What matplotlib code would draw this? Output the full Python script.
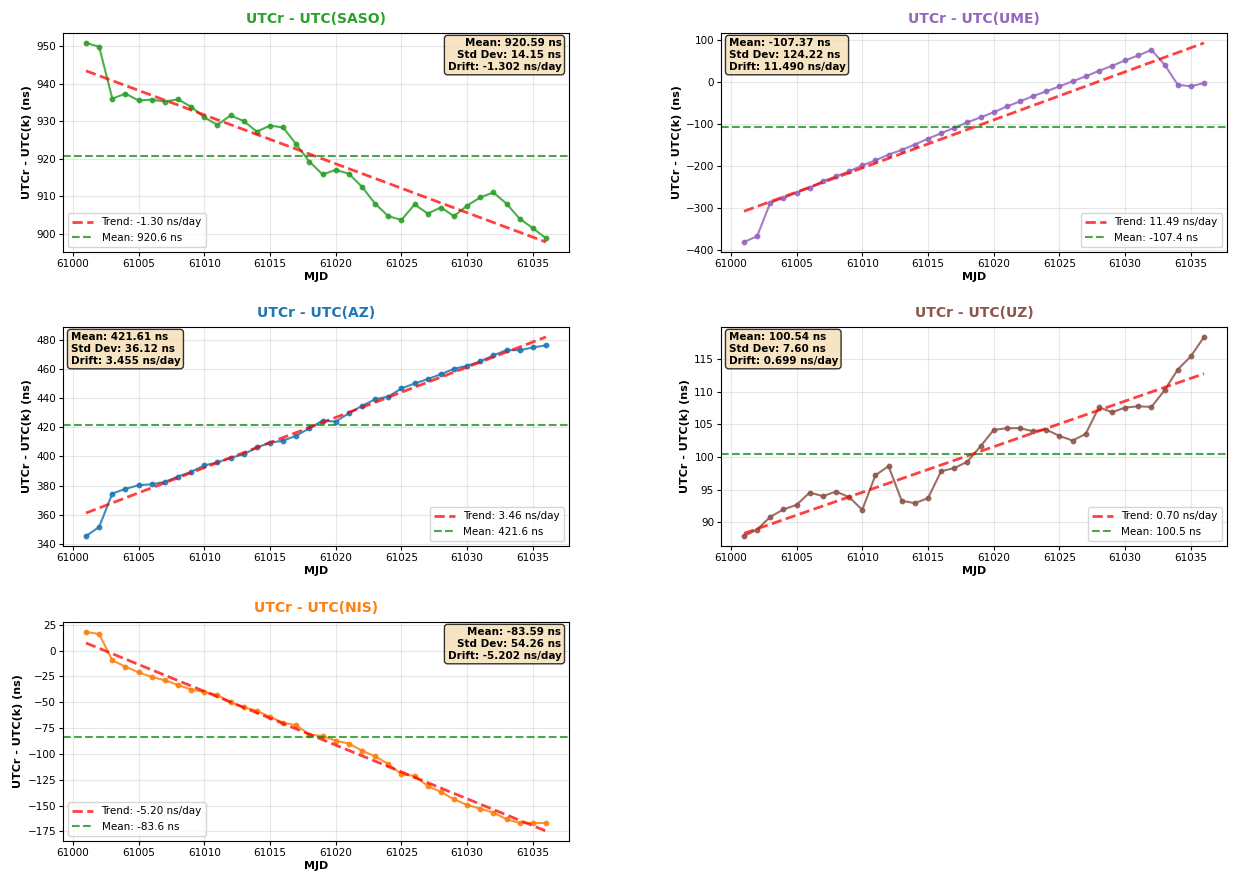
import numpy as np
import matplotlib
matplotlib.use("Agg")
import matplotlib.pyplot as plt

# Modified Julian Dates of the daily comparisons
mjd = list(range(61001, 61037))

# UTCr - UTC(k) offsets in ns for each laboratory
saso = [950.8, 949.8, 936.0, 937.3, 935.5, 935.7, 935.2, 935.8, 933.8, 931.0,
        929.0, 931.5, 930.0, 927.2, 928.8, 928.3, 923.8, 919.2, 915.8, 917.0,
        916.0, 912.5, 908.0, 904.7, 903.7, 907.8, 905.4, 907.0, 904.7, 907.5,
        909.7, 911.0, 908.0, 904.0, 901.5, 898.8]
ume = [-382, -368, -288, -277, -264, -252, -237, -225, -213, -199,
       -187, -173, -162, -149, -135, -122, -109, -96, -84, -72,
       -58, -46, -33, -22, -10, 2, 14, 27, 39, 52,
       64, 77, 42, -6, -10, -2]
az = [345.3, 351.5, 374.5, 377.7, 380.2, 380.9, 382.5, 386.2, 389.4, 393.8,
      395.9, 399.1, 401.4, 406.2, 409.4, 410.8, 414.3, 419.3, 424.6, 423.9,
      429.7, 434.7, 439.3, 441.1, 446.7, 450.1, 453.1, 456.5, 460.2, 462.3,
      465.3, 469.4, 473.1, 472.9, 474.9, 476.3]
uz = [87.9, 88.9, 90.85, 91.97, 92.68, 94.57, 94.01, 94.72, 93.86, 91.92,
      97.22, 98.6, 93.3, 92.94, 93.7, 97.84, 98.3, 99.3, 101.66, 104.16,
      104.42, 104.42, 103.96, 104.2, 103.24, 102.53, 103.55, 107.63, 106.87, 107.58,
      107.78, 107.68, 110.23, 113.4, 115.44, 118.4]
nis = [18.1, 16.1, -9.4, -15.5, -21.0, -25.5, -28.7, -33.2, -37.7, -40.0,
       -42.9, -50.0, -54.8, -58.1, -64.2, -69.7, -72.3, -81.3, -82.6, -87.1,
       -90.0, -96.8, -102.3, -109.7, -119.7, -121.3, -131.0, -136.8, -143.9, -149.4,
       -152.9, -156.8, -163.2, -166.8, -166.8, -166.8]

labs = ["SASO", "UME", "AZ", "UZ", "NIS"]
series = [saso, ume, az, uz, nis]
colors = ["#2ca02c", "#9467bd", "#1f77b4", "#8c564b", "#ff7f0e"]

# Summary statistics per laboratory
means = [920.59, -107.37, 421.61, 100.54, -83.59]
stds = [14.15, 124.22, 36.12, 7.60, 54.26]
drifts = [-1.302, 11.490, 3.455, 0.699, -5.202]

fig = plt.figure(figsize=(12.33, 8.75), dpi=100)

W, H = 1233, 875
col_left = [63, 721]
row_top = [33, 327, 622]
ax_w, ax_h = 506, 219
slots = [(0, 0), (0, 1), (1, 0), (1, 1), (2, 0)]

x = np.array(mjd, dtype=float)
for i, (lab, y, c, m, s, d) in enumerate(zip(labs, series, colors, means, stds, drifts)):
    r, cc = slots[i]
    ax = fig.add_axes([col_left[cc] / W, 1 - (row_top[r] + ax_h) / H, ax_w / W, ax_h / H])
    ax.plot(x, y, "o-", color=c, lw=1.5, ms=3.2, alpha=0.85)
    # least-squares trend passes through the centroid of the data
    xc = x.mean()
    trend = m + d * (x - xc)
    ax.plot(x, trend, "--", color="red", lw=2, alpha=0.75,
            label=f"Trend: {d:.2f} ns/day")
    ax.axhline(m, color="green", ls="--", lw=1.5, alpha=0.7,
               label=f"Mean: {m:.1f} ns")
    ax.set_title(f"UTCr - UTC({lab})", color=c, fontsize=10, fontweight="bold", pad=7)
    ax.set_xlabel("MJD", fontsize=8, fontweight="bold", labelpad=2)
    ax.set_ylabel("UTCr - UTC(k) (ns)", fontsize=8, fontweight="bold", labelpad=3)
    ax.tick_params(labelsize=7.5, length=3, pad=2)
    ax.grid(True, alpha=0.3)
    ax.set_xticks(range(61000, 61040, 5))

    stats = f"Mean: {m:.2f} ns\nStd Dev: {s:.2f} ns\nDrift: {d:.3f} ns/day"
    box = dict(boxstyle="round,pad=0.3", facecolor="wheat", alpha=0.8)
    if d < 0:
        ax.text(0.985, 0.975, stats, transform=ax.transAxes, ha="right", va="top",
                fontsize=7.5, fontweight="bold", bbox=box)
        ax.legend(loc="lower left", fontsize=7.5)
    else:
        ax.text(0.015, 0.975, stats, transform=ax.transAxes, ha="left", va="top",
                fontsize=7.5, fontweight="bold", bbox=box)
        ax.legend(loc="lower right", fontsize=7.5)

fig.savefig("out.png", dpi=100)
